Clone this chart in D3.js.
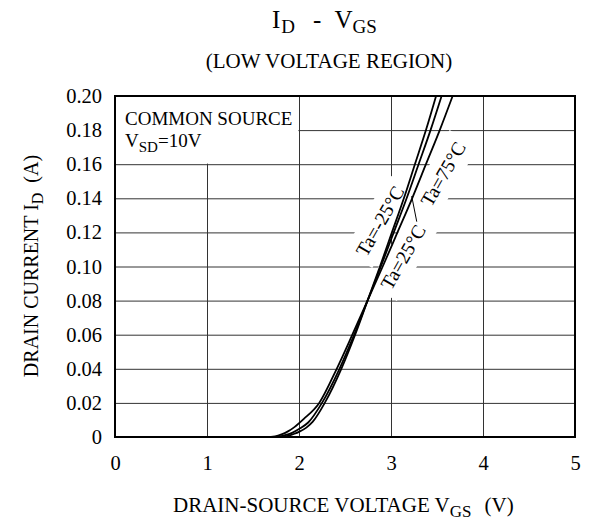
<!DOCTYPE html>
<html>
<head>
<meta charset="utf-8">
<script src="https://cdn.jsdelivr.net/npm/d3@7"></script>
<style>
body { margin: 0; background: #fff; }
text { font-family: "Liberation Serif", "Times New Roman", serif; fill: #000; }
</style>
</head>
<body>
<script>
var w = 598;
var h = 523;
var margin = {left: 115, right: 23, top: 96, bottom: 86};
var width = w - margin.left - margin.right;
var height = h - margin.top - margin.bottom;

// tick values
var xTicks = [0, 1, 2, 3, 4, 5];
var yTicks = [0, 0.02, 0.04, 0.06, 0.08, 0.10, 0.12, 0.14, 0.16, 0.18, 0.20];

// curves: VGS (V) and ID (A)
var vgsM25 = [0, 1.75, 1.84, 1.9, 1.95, 2.0, 2.08, 2.15, 2.28, 2.46, 2.61, 2.745, 2.88, 3.01, 3.14, 3.26, 3.38, 3.49];
var idM25  = [0, 0, 0.0003, 0.001, 0.0019, 0.003, 0.0055, 0.009, 0.02, 0.04, 0.06, 0.08, 0.10, 0.12, 0.14, 0.16, 0.18, 0.20];
var vgs25  = [0, 1.7, 1.79, 1.86, 1.93, 2.0, 2.1, 2.25, 2.44, 2.60, 2.745, 2.89, 3.03, 3.17, 3.30, 3.43, 3.55];
var id25   = [0, 0, 0.0003, 0.0012, 0.0026, 0.0047, 0.0085, 0.02, 0.04, 0.06, 0.08, 0.10, 0.12, 0.14, 0.16, 0.18, 0.20];
var vgs75  = [0, 1.65, 1.74, 1.81, 1.88, 1.95, 2.05, 2.22, 2.41, 2.58, 2.745, 2.91, 3.07, 3.23, 3.38, 3.53, 3.67];
var id75   = [0, 0, 0.0004, 0.0015, 0.0033, 0.0058, 0.0105, 0.02, 0.04, 0.06, 0.08, 0.10, 0.12, 0.14, 0.16, 0.18, 0.20];

// curve labels, placed in data units
var labelText = ["Ta=-25°C", "Ta=25°C", "Ta=75°C"];
var labelV = [2.88, 3.13, 3.565];
var labelI = [0.1267, 0.1056, 0.1543];
// leader from the Ta=25°C label up to its curve
var leaderV = [3.225, 3.28];
var leaderI = [0.1413, 0.1263];

var curves = [
    {v: vgsM25, i: idM25},
    {v: vgs25, i: id25},
    {v: vgs75, i: id75}];

var x = d3.scaleLinear().domain([0, 5]).range([0, width]);
var y = d3.scaleLinear().domain([0, 0.2]).range([height, 0]);

var svg = d3.select("body").append("svg")
    .attr("width", w)
    .attr("height", h);

var plot = svg.append("g")
    .attr("transform", "translate(" + margin.left + "," + margin.top + ")");

// grid
var gridG = plot.append("g");
gridG.append("g")
    .attr("transform", "translate(0," + height + ")")
    .call(d3.axisBottom(x).tickValues([1, 2, 3, 4]).tickSize(-height).tickFormat(""));
gridG.append("g")
    .call(d3.axisLeft(y).tickValues(yTicks.slice(1, -1)).tickSize(-width).tickFormat(""));
gridG.selectAll(".domain").remove();
gridG.selectAll("line").attr("stroke", "#333").attr("stroke-width", 1);

// white patches that break the grid under the legend and labels
var maskG = plot.append("g");
maskG.append("rect")
    .attr("x", x(0) + 1)
    .attr("y", y(0.2) + 1)
    .attr("width", x(2) - x(0) - 1.6)
    .attr("height", y(0.16) - y(0.2) - 1.6)
    .attr("fill", "#fff");

// frame
plot.append("rect")
    .attr("width", width)
    .attr("height", height)
    .attr("fill", "none")
    .attr("stroke", "#000")
    .attr("stroke-width", 2);

// curves
var line = d3.line()
    .x(function(d){ return x(d[0]); })
    .y(function(d){ return y(d[1]); })
    .curve(d3.curveMonotoneX);

plot.append("g").selectAll("path")
    .data(curves)
    .enter()
    .append("path")
    .attr("d", function(c){ return line(d3.zip(c.v, c.i)); })
    .attr("fill", "none")
    .attr("stroke", "#000")
    .attr("stroke-width", 1.8);

// curve labels
var labelG = plot.append("g");
labelText.forEach(function(t, k){
    var tr = "translate(" + x(labelV[k]) + "," + y(labelI[k]) + ") rotate(-60)";
    var txt = labelG.append("text")
        .attr("transform", tr)
        .attr("text-anchor", "middle")
        .attr("dy", "0.35em")
        .attr("font-size", 19.5)
        .text(t);
    var bb = txt.node().getBBox();
    maskG.append("rect")
        .attr("transform", tr)
        .attr("x", bb.x - 6)
        .attr("y", bb.y - 6)
        .attr("width", bb.width + 12)
        .attr("height", bb.height + 12)
        .attr("fill", "#fff");
});

labelG.append("line")
    .attr("x1", x(leaderV[0])).attr("y1", y(leaderI[0]))
    .attr("x2", x(leaderV[1])).attr("y2", y(leaderI[1]))
    .attr("stroke", "#000")
    .attr("stroke-width", 1);

// tick labels
var xAxisG = plot.append("g")
    .attr("transform", "translate(0," + height + ")")
    .call(d3.axisBottom(x).tickValues(xTicks).tickSize(0).tickPadding(18).tickFormat(d3.format("d")));
var yAxisG = plot.append("g")
    .call(d3.axisLeft(y).tickValues(yTicks).tickSize(0).tickPadding(13)
        .tickFormat(function(d){ return d === 0 ? "0" : d3.format(".2f")(d); }));
[xAxisG, yAxisG].forEach(function(g){
    g.select(".domain").remove();
    g.attr("font-family", null).attr("font-size", null);
    g.selectAll("text").attr("font-size", 20.5).attr("fill", "#000");
});

// legend
var legend = plot.append("g").attr("font-size", 19);
legend.append("text").attr("x", 10).attr("y", 29).text("COMMON SOURCE");
var vsd = legend.append("text").attr("x", 10).attr("y", 51);
vsd.append("tspan").text("V");
vsd.append("tspan").attr("font-size", 15).attr("dy", 5).text("SD");
vsd.append("tspan").attr("dy", -5).text("=10V");

// titles
var title = svg.append("text")
    .attr("x", 272).attr("y", 28)
    .attr("font-size", 25);
title.append("tspan").text("I");
title.append("tspan").attr("font-size", 19).attr("dy", 5).attr("dx", 1).text("D");
title.append("tspan").attr("dy", -5).attr("dx", 18).text("-");
title.append("tspan").attr("dx", 13).text("V");
title.append("tspan").attr("font-size", 19).attr("dy", 5).text("GS");

svg.append("text")
    .attr("x", 329).attr("y", 68)
    .attr("text-anchor", "middle")
    .attr("font-size", 21)
    .text("(LOW VOLTAGE REGION)");

var xTitle = svg.append("text")
    .attr("x", 173).attr("y", 512)
    .attr("font-size", 21);
xTitle.append("tspan").text("DRAIN-SOURCE VOLTAGE V");
xTitle.append("tspan").attr("font-size", 17).attr("dy", 5).text("GS");
xTitle.append("tspan").attr("dy", -5).attr("dx", 13).text("(V)");

var yTitle = svg.append("text")
    .attr("transform", "translate(38,266) rotate(-90)")
    .attr("text-anchor", "middle")
    .attr("font-size", 20);
yTitle.append("tspan").text("DRAIN CURRENT I");
yTitle.append("tspan").attr("font-size", 16).attr("dy", 5).text("D");
yTitle.append("tspan").attr("dy", -5).attr("dx", 10).text("(A)");
</script>
</body>
</html>
